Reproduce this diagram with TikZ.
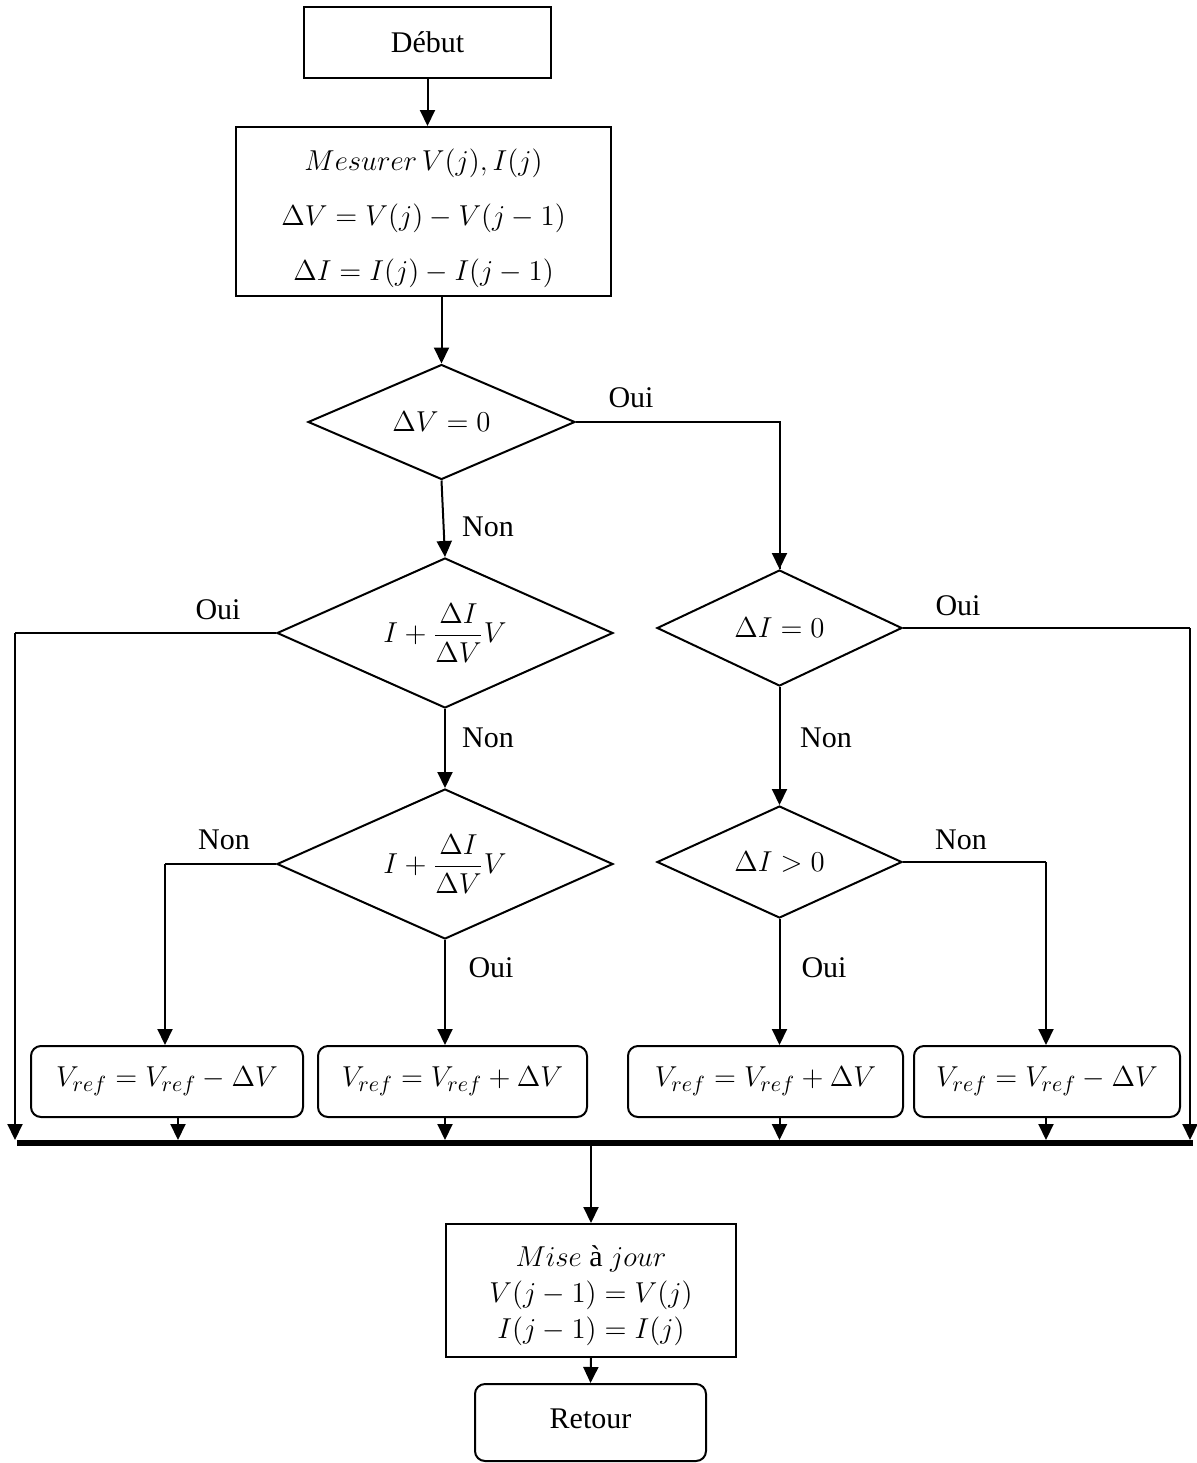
\documentclass[tikz,border=0pt]{standalone}
\usepackage{fontspec}
\setmainfont{Liberation Serif}
\usetikzlibrary{shapes.geometric,arrows.meta}

\begin{document}
\begin{tikzpicture}[x=0.5pt,y=-0.5pt,
  every node/.style={font=\fontsize{15}{18}\selectfont},
  plainbox/.style={draw,line width=1pt,rectangle,inner sep=0pt,align=center},
  roundbox/.style={plainbox,rounded corners=5pt},
  test/.style={draw,line width=1pt,diamond,inner sep=0pt,aspect=2.3},
  arr/.style={line width=1pt,-{Triangle[width=7.5pt,length=8pt]}},
  link/.style={line width=1pt},
  bus/.style={line width=2.8pt},
  lab/.style={inner sep=0pt}
]
\useasboundingbox (0,0) rectangle (1197,1463);

% --- process boxes and tests ---
\node[plainbox,minimum width=123.5pt,minimum height=35.5pt] (debut) at (427.5,42.5) {Début};
\node[plainbox,minimum width=187.5pt,minimum height=84.5pt,
      font=\fontsize{15}{27.5}\selectfont] (mes) at (423.5,211.5)
  {\rule{0pt}{18pt}$Mesurer\,V(j),I(j)$\\ $\Delta V=V(j)-V(j-1)$\\ $\Delta I=I(j)-I(j-1)$};

\node[test,minimum width=133.5pt,minimum height=57.5pt] (d1) at (441.5,422) {$\Delta V=0$};
\node[test,minimum width=168pt,minimum height=75pt] (d2) at (445,633) {$\displaystyle I+\frac{\Delta I}{\Delta V}V$};
\node[test,minimum width=168pt,minimum height=75pt] (d3) at (445,864) {$\displaystyle I+\frac{\Delta I}{\Delta V}V$};
\node[test,minimum width=122.5pt,minimum height=58pt] (d4) at (779.5,628) {$\Delta I=0$};
\node[test,minimum width=122.5pt,minimum height=56pt] (d5) at (779.5,862) {$\Delta I>0$};

\node[roundbox,minimum width=136pt,minimum height=35.5pt] (b1) at (167,1081.5) {$V_{ref}=V_{ref}-\Delta V$};
\node[roundbox,minimum width=134.5pt,minimum height=35.5pt] (b2) at (452.5,1081.5) {$V_{ref}=V_{ref}+\Delta V$};
\node[roundbox,minimum width=137.5pt,minimum height=35.5pt] (b3) at (765.5,1081.5) {$V_{ref}=V_{ref}+\Delta V$};
\node[roundbox,minimum width=133pt,minimum height=35.5pt] (b4) at (1047,1081.5) {$V_{ref}=V_{ref}-\Delta V$};

\node[plainbox,minimum width=145pt,minimum height=66.5pt] (mise) at (591,1290.5)
  {\rule{0pt}{16pt}$Mise$ à $jour$\\ $V(j-1)=V(j)$\\ $I(j-1)=I(j)$};
\node[roundbox,minimum width=115.5pt,minimum height=38.5pt] (ret) at (590.5,1422.5)
  {Retour\rule[-4pt]{0pt}{0pt}};

% --- collecting bus ---
\coordinate (busL) at (17,1143);
\coordinate (busR) at (1193,1143);
\coordinate (bt) at (0,1140);
\coordinate (cL) at (15,633);
\coordinate (cR) at (1190,628);
\coordinate (c3) at (165,864);
\coordinate (c5) at (1046,862);
\draw[bus] (busL) -- (busR);

% --- connectors ---
\draw[arr] (debut.south) -- (debut.south |- mes.north);
\draw[arr] (mes.south -| d1.north) -- (d1.north);
\draw[arr] (d1.south) -- (d2.north);
\draw[link] (d1.east) -| (d4.north);
\draw[arr] (d1.east -| d4.north) -- (d4.north);
\draw[arr] (d2.south) -- (d3.north);
\draw[link] (d2.west) -- (cL);
\draw[arr] (cL) -- (cL |- bt);
\draw[link] (d3.west) -- (c3);
\draw[arr] (c3) -- (c3 |- b1.north);
\draw[arr] (d3.south) -- (d3.south |- b2.north);
\draw[arr] (d4.south) -- (d5.north);
\draw[link] (d4.east) -- (cR);
\draw[arr] (cR) -- (cR |- bt);
\draw[link] (d5.east) -- (c5);
\draw[arr] (c5) -- (c5 |- b4.north);
\draw[arr] (d5.south) -- (d5.south |- b3.north);

\draw[arr] ([xshift=5.5pt]b1.south) -- ([xshift=5.5pt]b1.south |- bt);
\draw[arr] (d3.south |- b2.south) -- (d3.south |- bt);
\draw[arr] (d5.south |- b3.south) -- (d5.south |- bt);
\draw[arr] (c5 |- b4.south) -- (c5 |- bt);

\draw[arr] (mise.north |- busL) -- (mise.north);
\draw[arr] (mise.south) -- (ret.north);

% --- branch labels ---
\node[lab] (l1) at (631,398) {Oui};
\node[lab] (l2) at (488,527) {Non};
\node[lab] (l3) at (218,610) {Oui};
\node[lab] (l4) at (488,738) {Non};
\node[lab] (l5) at (224,840) {Non};
\node[lab] (l6) at (491,968) {Oui};
\node[lab] (l7) at (958,606) {Oui};
\node[lab] (l8) at (826,738) {Non};
\node[lab] (l9) at (961,840) {Non};
\node[lab] (l10) at (824,968) {Oui};
\end{tikzpicture}
\end{document}
